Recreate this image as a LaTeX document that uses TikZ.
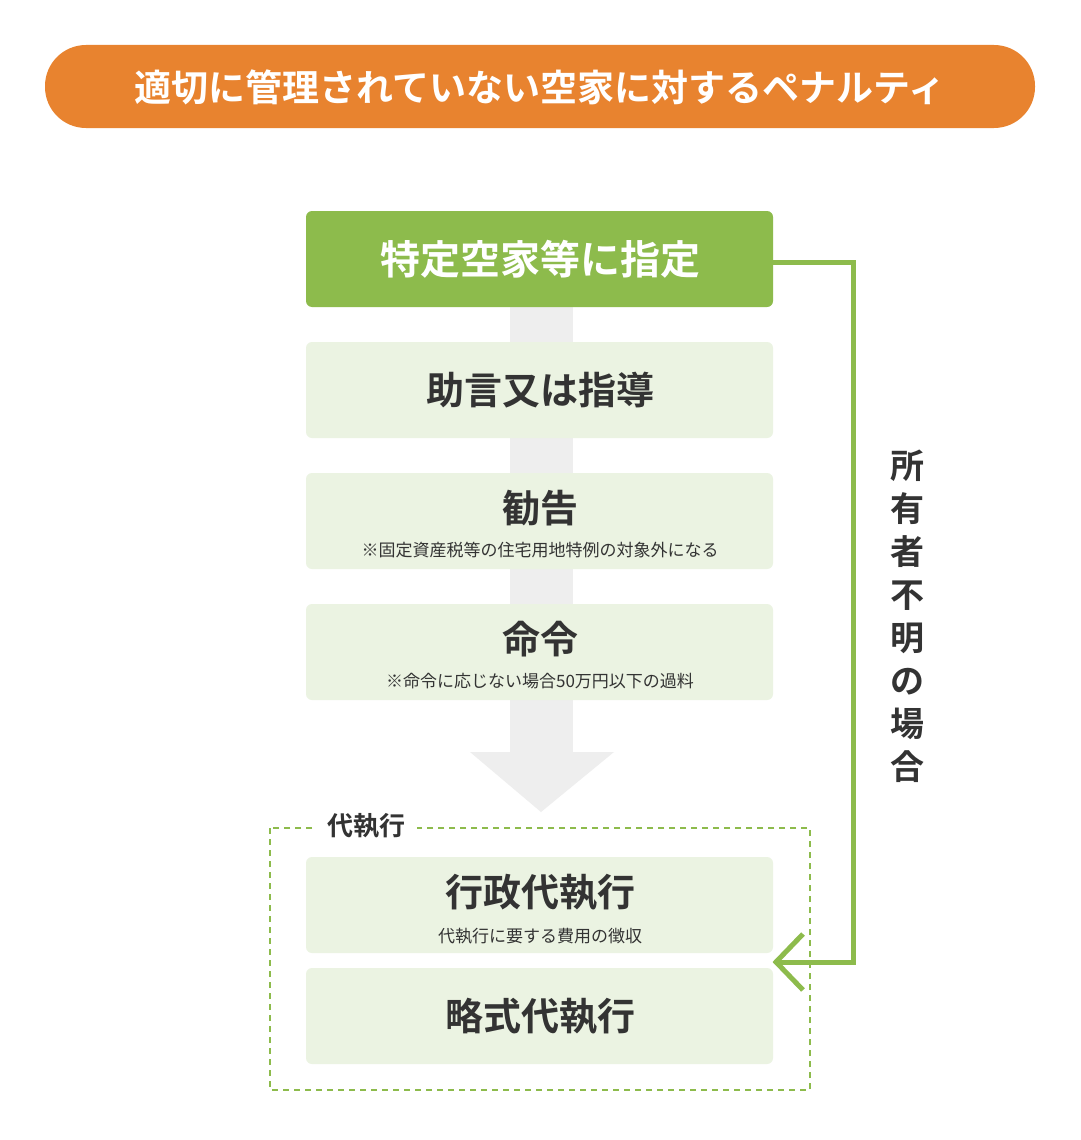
\documentclass[tikz,border=0pt]{standalone}
\usepackage{fontspec}
\setmainfont{Noto Sans CJK JP}
\newfontfamily\jpb{Noto Sans CJK JP Bold}
\usetikzlibrary{arrows.meta}
\definecolor{orng}{HTML}{E8832F}
\definecolor{grn}{HTML}{8DBB4C}
\definecolor{lgrn}{HTML}{EBF3E2}
\definecolor{gry}{HTML}{EEEEEE}
\definecolor{txt}{HTML}{333333}
\begin{document}
\begin{tikzpicture}[x=1pt,y=-1pt,
  lbox/.style={fill=lgrn,rounded corners=6pt},
  big/.style={font=\jpb\fontsize{38}{40}\selectfont,text=txt},
  small/.style={font=\fontsize{17}{19}\selectfont,text=txt}]
\useasboundingbox (0,0) rectangle (1080,1140);
\fill[white] (0,0) rectangle (1080,1140);
% title
\fill[orng,rounded corners=41pt] (45,45) rectangle (1035,128);
\node[text=white,font=\jpb\fontsize{37}{40}\selectfont] (title) at (540,87) {適切に管理されていない空家に対するペナルティ};
% grey arrow
\fill[gry] (510,300) rectangle (573,752);
\fill[gry] (470,752) -- (614,752) -- (541,812) -- cycle;
% boxes
\fill[grn,rounded corners=6pt] (306,211) rectangle (773,307);
\node[text=white,font=\jpb\fontsize{40}{42}\selectfont] (b1) at (540,259) {特定空家等に指定};
\fill[lbox] (306,342) rectangle (773,438);
\node[big] (b2) at (540,390) {助言又は指導};
\fill[lbox] (306,473) rectangle (773,569);
\node[big] (b3) at (540,508) {勧告};
\node[small] (b3s) at (540,550) {※固定資産税等の住宅用地特例の対象外になる};
\fill[lbox] (306,604) rectangle (773,700);
\node[big] (b4) at (540,639) {命令};
\node[small] (b4s) at (540,681) {※命令に応じない場合50万円以下の過料};
% dashed group
\draw[grn,line width=2.5pt,dash pattern=on 6pt off 5pt] (270,828) rectangle (810,1090);
\node[fill=white,inner xsep=12pt,font=\jpb\fontsize{26}{28}\selectfont,text=txt] (grp) at (366,826) {代執行};
\fill[lbox] (306,857) rectangle (773,953);
\node[big] (b5) at (540,892) {行政代執行};
\node[small] (b5s) at (540,936) {代執行に要する費用の徴収};
\fill[lbox] (306,968) rectangle (773,1064);
\node[big] (b6) at (540,1016) {略式代執行};
% green connector
\coordinate (s) at (773,262);
\coordinate (c1) at (853,262);
\coordinate (c2) at (853,962);
\coordinate (e) at (776,962);
\draw[grn,line width=5pt] (s) -- (c1) -- (c2) -- (e);
\draw[grn,line width=5pt] (803,934) -- (776,962) -- (803,990);
% vertical text
\node[text=txt,font=\jpb\fontsize{34}{43}\selectfont,align=center] (vt) at (907,616)
 {所\\有\\者\\不\\明\\の\\場\\合};
\end{tikzpicture}
\end{document}
